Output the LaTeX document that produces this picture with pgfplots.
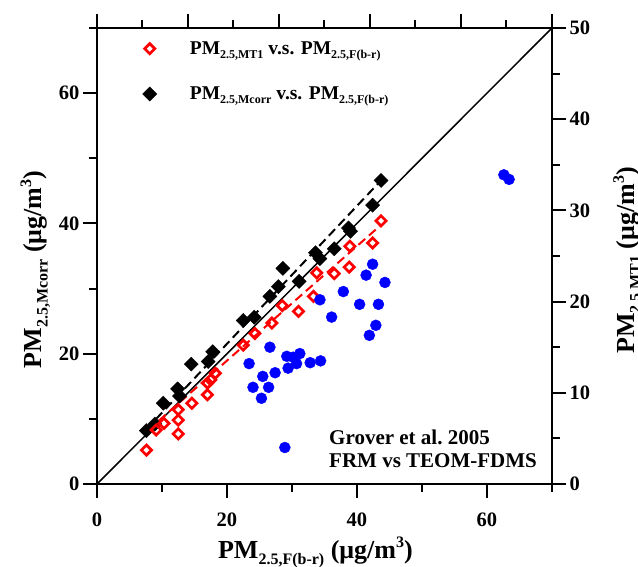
\documentclass[border=0pt]{standalone}
\usepackage{pgfplots}
\pgfplotsset{compat=1.18}
\usepackage{pgfplotstable}
\usepackage{fontspec}
\setmainfont{Liberation Serif}
\newcommand{\labsub}[1]{\raisebox{-0.22em}{\fontsize{16}{16}\selectfont #1}}
\newcommand{\labsup}[1]{\raisebox{0.42em}{\fontsize{16}{16}\selectfont #1}}
\newcommand{\legsub}[1]{\raisebox{-0.22em}{\fontsize{12}{12}\selectfont #1}}

\pgfplotstableread{
x y
7.6 8.2
8.9 9.2
10.2 12.4
12.4 14.6
12.7 13.5
14.5 18.4
17.1 18.8
17.8 20.3
22.5 25.1
24.2 25.6
26.6 28.8
27.9 30.3
28.6 33.1
31.1 31.1
33.6 35.5
34.3 34.6
36.5 36.1
38.7 39.3
39.0 38.8
42.4 42.8
43.7 46.6
}\blackdata

\pgfplotstableread{
x y
7.6 5.2
9.1 8.3
10.3 9.3
12.5 7.7
12.5 9.8
12.5 11.4
14.6 12.4
17.0 13.7
17.0 15.5
17.5 16.0
18.2 17.0
22.5 21.3
24.3 23.1
26.9 24.7
28.5 27.4
31.0 26.5
33.3 28.8
33.8 32.4
36.5 32.3
38.8 33.3
38.9 36.5
42.4 37.0
43.7 40.4
}\reddata

\pgfplotstableread{
x y
23.4 13.2
26.6 15.0
25.5 11.8
27.4 12.2
24.0 10.6
26.4 10.6
25.3 9.4
28.9 4.0
29.2 14.0
29.4 12.7
31.2 14.3
30.7 13.2
30.2 13.9
32.8 13.3
34.4 13.5
34.3 20.2
36.1 18.3
37.9 21.1
40.4 19.7
41.4 22.9
42.4 24.1
43.3 19.7
44.3 22.1
42.9 17.4
41.9 16.3
62.6 33.9
63.4 33.4
}\bluedata

\pgfplotsset{
  common/.style={
    scale only axis, width=455pt, height=456pt,
    at={(0pt,0pt)}, anchor=south west,
    tick align=outside,
    major tick length=14pt, minor tick length=8pt,
    axis line style={line width=2pt},
    every tick/.style={line width=2pt, black},
    tick label style={font=\fontsize{20.5}{24}\selectfont\bfseries},
    /pgf/number format/assume math mode=true,
  },
  redmark/.style={only marks, mark=square, mark size=3.6pt,
    mark options={rotate=45, draw=red, fill=white, line width=2.7pt}},
  blackmark/.style={only marks, mark=square*, mark size=5pt,
    mark options={rotate=45, draw=black, fill=black, line width=0.4pt}},
}

\begin{document}
\begin{tikzpicture}
\begin{axis}[
  common,
  xmin=0, xmax=70, ymin=0, ymax=70,
  axis x line*=bottom, axis y line*=left,
  xtick={0,20,40,60}, minor xtick={10,30,50,70},
  ytick={0,20,40,60}, minor ytick={10,30,50,70},
  xticklabel style={yshift=-11pt},
  xlabel={PM\labsub{2.5,F(b-r)} (μg/m\labsup{3})},
  ylabel={PM\labsub{2.5,Mcorr} (μg/m\labsup{3})},
  every axis x label/.style={at={(axis description cs:0.48,-0.164)}, anchor=base,
    font=\fontsize{26}{30}\selectfont\bfseries},
  every axis y label/.style={at={(axis description cs:-0.121,0.47)}, anchor=base, rotate=90,
    font=\fontsize{26}{30}\selectfont\bfseries},
  legend style={at={(axis description cs:0.100,0.975)}, anchor=north west,
    draw=none, fill=none, font=\fontsize{19.5}{23}\selectfont\bfseries,
    row sep=27pt, inner sep=0pt,
    /tikz/every odd column/.append style={column sep=31pt}},
  legend cell align=left,
  legend image code/.code={\draw[#1] plot coordinates {(0pt,0pt)};},
]
\addlegendimage{redmark}
\addlegendentry{PM\legsub{2.5,MT1} v.s. PM\legsub{2.5,F(b-r)}}
\addlegendimage{blackmark}
\addlegendentry{PM\legsub{2.5,Mcorr} v.s. PM\legsub{2.5,F(b-r)}}

\addplot[black, line width=1.5pt, forget plot] coordinates {(0,0) (70,70)};
\addplot[black, line width=2pt, dash pattern=on 9pt off 5pt, forget plot] coordinates {(7.6,8.4) (43.6,46.5)};
\addplot[red, line width=2pt, dash pattern=on 9pt off 5pt, forget plot] coordinates {(7.9,8.3) (43.5,39.6)};
\addplot[blackmark, forget plot] table {\blackdata};
\addplot[redmark, forget plot] table {\reddata};

\node[anchor=base west, font=\fontsize{21}{24}\selectfont\bfseries, inner sep=0pt] at (axis cs:35.7,6.0) {Grover et al.\ 2005};
\node[anchor=base west, font=\fontsize{21}{24}\selectfont\bfseries, inner sep=0pt] at (axis cs:35.7,2.6) {FRM vs TEOM-FDMS};
\end{axis}

\begin{axis}[
  common,
  xmin=0, xmax=50, ymin=0, ymax=50,
  axis x line*=top, axis y line*=right,
  xtick={0,10,...,50}, minor xtick={5,15,...,45},
  xticklabels={},
  ytick={0,10,...,50}, minor ytick={5,15,...,45},
  ylabel={PM\labsub{2.5,MT1} (μg/m\labsup{3})},
  every axis y label/.style={at={(axis description cs:1.182,0.49)}, anchor=base, rotate=90,
    font=\fontsize{26}{30}\selectfont\bfseries},
]
\end{axis}

\begin{axis}[
  scale only axis, width=455pt, height=456pt,
  at={(0pt,0pt)}, anchor=south west,
  xmin=0, xmax=70, ymin=0, ymax=50,
  hide axis,
]
\addplot[only marks, mark=*, mark size=5.5pt, color=blue, mark options={fill=blue, draw=blue}] table {\bluedata};
\end{axis}
\pgfresetboundingbox
\path[use as bounding box] (-97pt,-83pt) rectangle (541pt,484pt);
\end{tikzpicture}
\end{document}
